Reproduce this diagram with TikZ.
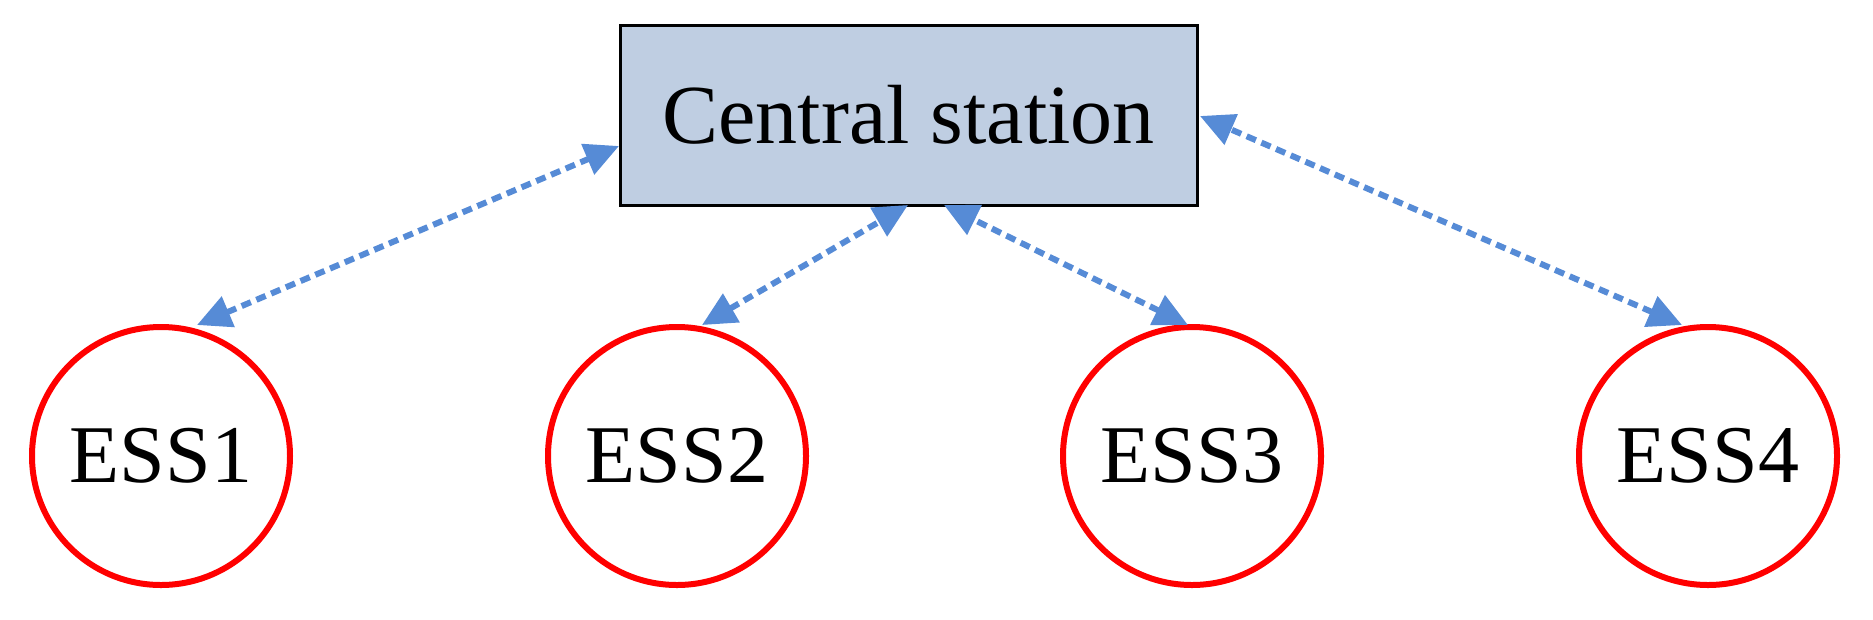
\documentclass[tikz,border=0pt]{standalone}
\usepackage{fontspec}
\setmainfont{Liberation Serif}
\usetikzlibrary{arrows.meta}
\begin{document}
\begin{tikzpicture}[x=1pt,y=-1pt,
  ess/.style={circle,draw=red,line width=6pt,minimum size=258pt,inner sep=0pt,font=\fontsize{82}{90}\selectfont},
  link/.style={draw={rgb,255:red,86;green,139;blue,214},line width=6pt,dash pattern=on 10pt off 6pt,
    {Triangle[length=34pt,width=32pt,fill={rgb,255:red,86;green,139;blue,214}]}-{Triangle[length=34pt,width=32pt,fill={rgb,255:red,86;green,139;blue,214}]}}]
\useasboundingbox (0,0) rectangle (1873,619);
\node[draw=black,line width=3pt,fill={rgb,255:red,191;green,206;blue,226},minimum width=577pt,minimum height=180pt,inner sep=0pt,font=\fontsize{84}{90}\selectfont] (cs) at (908.5,115) {Central station};
\node[ess] (e1) at (161,456) {ESS1};
\node[ess] (e2) at (677,456) {ESS2};
\node[ess] (e3) at (1192,456) {ESS3};
\node[ess] (e4) at (1708,456) {ESS4};
\coordinate (a1) at (197,325); \coordinate (b1) at (619,146);
\coordinate (a2) at (702,325); \coordinate (b2) at (908,205);
\coordinate (a3) at (1188,325); \coordinate (b3) at (944,205);
\coordinate (a4) at (1682,325); \coordinate (b4) at (1200,116);
\draw[link] (a1) -- (b1);
\draw[link] (a2) -- (b2);
\draw[link] (a3) -- (b3);
\draw[link] (a4) -- (b4);
\end{tikzpicture}
\end{document}
